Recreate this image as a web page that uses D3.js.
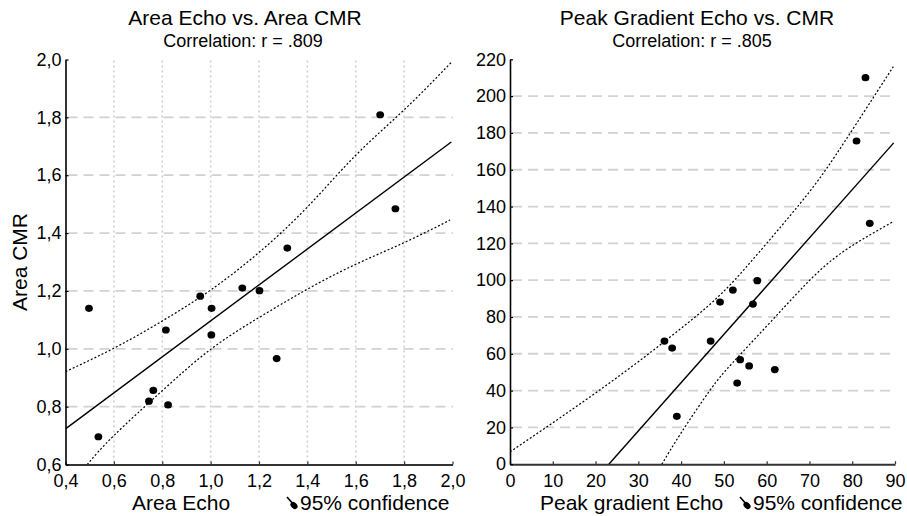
<!DOCTYPE html>
<html>
<head>
<meta charset="utf-8">
<script src="https://cdn.jsdelivr.net/npm/d3@7"></script>
<style>
  body { margin: 0; background: #fff; }
  svg { display: block; font-family: "Liberation Sans", Arial, Helvetica, sans-serif; }
</style>
</head>
<body>
<div id="chart"></div>
<script>
'use strict';

// left panel: area
const areaEcho = [0.497, 0.536, 0.745, 0.763, 0.824, 0.815, 0.957, 1.004, 1.003, 1.131, 1.202, 1.273, 1.317, 1.701, 1.764];
const areaCmr  = [1.140, 0.696, 0.819, 0.856, 0.806, 1.065, 1.182, 1.140, 1.048, 1.210, 1.201, 0.966, 1.348, 1.809, 1.484];
const areaFitX = [0.4, 1.995];
const areaFitY = [0.723, 1.715];
const areaUpperX = [0.4, 0.6, 0.8, 1.0, 1.2, 1.4, 1.6, 1.8, 1.995];
const areaUpperY = [0.921, 1.002, 1.096, 1.203, 1.333, 1.490, 1.669, 1.826, 1.99];
const areaLowerX = [0.49, 0.6, 0.8, 1.0, 1.2, 1.4, 1.6, 1.8, 1.99];
const areaLowerY = [0.6, 0.700, 0.855, 0.998, 1.108, 1.206, 1.292, 1.367, 1.445];
const areaXTicks = [0.4, 0.6, 0.8, 1.0, 1.2, 1.4, 1.6, 1.8, 2.0];
const areaYTicks = [0.6, 0.8, 1.0, 1.2, 1.4, 1.6, 1.8, 2.0];

// right panel: peak gradient
const peakEcho = [36.1, 37.9, 39.0, 46.9, 49.1, 52.1, 53.1, 53.8, 55.9, 56.8, 57.8, 61.9, 81.0, 83.1, 84.1];
const peakCmr  = [66.9, 63.1, 26.0, 66.9, 88.1, 94.6, 44.1, 56.8, 53.4, 87.0, 99.7, 51.4, 175.6, 210.0, 130.9];
const peakFitX = [23.1, 89.7];
const peakFitY = [0, 174.6];
const peakUpperX = [0, 10, 20, 30, 40, 50, 60, 70, 78.3, 89.6];
const peakUpperY = [6.7, 22.5, 38.7, 55.7, 73.8, 94, 120, 148, 175.5, 216];
const peakLowerX = [35.5, 40, 46.7, 52, 60, 68, 77, 89.6];
const peakLowerY = [0, 17, 40, 55, 75, 95, 114, 131.8];
const peakXTicks = [0, 10, 20, 30, 40, 50, 60, 70, 80, 90];
const peakYTicks = [0, 20, 40, 60, 80, 100, 120, 140, 160, 180, 200, 220];

const svg = d3.select("#chart").append("svg")
    .attr("width", 907)
    .attr("height", 516);

const zip = (xs, ys) => xs.map((x, i) => [x, ys[i]]);

function drawPanel(p) {
    const x = p.x, y = p.y;
    const g = svg.append("g");
    const [x0, x1] = x.range();
    const [yb, yt] = y.range();

    g.append("clipPath").attr("id", p.id + "-clip")
        .append("rect")
        .attr("x", x0).attr("y", yt)
        .attr("width", x1 - x0).attr("height", yb - yt);

    // grid
    if (p.vGrid) {
        g.selectAll(".vg").data(p.vGrid).enter().append("line")
            .attr("x1", d => x(d)).attr("x2", d => x(d))
            .attr("y1", yt + 1).attr("y2", yb)
            .attr("stroke", "#cfcfcf")
            .attr("stroke-width", 1.6)
            .attr("stroke-dasharray", "2,3");
    }
    g.selectAll(".hg").data(p.hGrid).enter().append("line")
        .attr("x1", x0 + 2).attr("x2", p.hGridEnd)
        .attr("y1", d => y(d)).attr("y2", d => y(d))
        .attr("stroke", "#d2d2d2")
        .attr("stroke-width", 1.8)
        .attr("stroke-dasharray", "10,6");

    const plot = g.append("g").attr("clip-path", "url(#" + p.id + "-clip)");
    const fitLine = d3.line().x(d => x(d[0])).y(d => y(d[1]));
    const bandLine = d3.line().x(d => x(d[0])).y(d => y(d[1])).curve(d3.curveNatural);

    plot.append("path").datum(zip(p.fitX, p.fitY))
        .attr("d", fitLine).attr("fill", "none")
        .attr("stroke", "#000").attr("stroke-width", 1.4);
    [zip(p.upX, p.upY), zip(p.loX, p.loY)].forEach(band => {
        plot.append("path").datum(band)
            .attr("d", bandLine).attr("fill", "none")
            .attr("stroke", "#000").attr("stroke-width", 1.2)
            .attr("stroke-dasharray", "2,2");
    });

    g.selectAll(".pt").data(zip(p.px, p.py)).enter().append("ellipse")
        .attr("cx", d => x(d[0])).attr("cy", d => y(d[1]))
        .attr("rx", 3.9).attr("ry", 3.6)
        .attr("fill", "#000");

    // axes
    const xAxis = g.append("g")
        .attr("transform", "translate(0," + yb + ")")
        .call(d3.axisBottom(x).tickValues(p.xTicks).tickFormat(p.fmtX)
            .tickSizeInner(-3).tickSizeOuter(0).tickPadding(10));
    xAxis.select(".domain").attr("stroke", "#333").attr("stroke-width", 2);
    xAxis.selectAll(".tick line").attr("stroke", "#333").attr("stroke-width", 1.2);
    xAxis.selectAll("text").attr("font-size", 18).attr("fill", "#000")
        .attr("font-family", "Liberation Sans, Arial, sans-serif");

    const yAxis = g.append("g")
        .attr("transform", "translate(" + x0 + ",0)")
        .call(d3.axisLeft(y).tickValues(p.yTicks).tickFormat(p.fmtY)
            .tickSizeInner(-3).tickSizeOuter(0).tickPadding(4));
    yAxis.select(".domain").attr("stroke", "#000").attr("stroke-width", 1.6);
    yAxis.selectAll(".tick line").attr("stroke", "#000").attr("stroke-width", 1.2);
    yAxis.selectAll("text").attr("font-size", 18).attr("fill", "#000")
        .attr("font-family", "Liberation Sans, Arial, sans-serif");

    // titles
    g.append("text").attr("x", p.titleX).attr("y", 25)
        .attr("text-anchor", "middle").attr("font-size", 21)
        .text(p.title);
    g.append("text").attr("x", p.subX).attr("y", 47)
        .attr("text-anchor", "middle").attr("font-size", 18)
        .text(p.sub);

    // x label and legend
    g.append("text").attr("x", p.xLabelX).attr("y", 510)
        .attr("font-size", 21).text(p.xLabel);
    g.append("line")
        .attr("x1", p.legX - 7).attr("y1", 497)
        .attr("x2", p.legX).attr("y2", 505)
        .attr("stroke", "#000").attr("stroke-width", 1.6);
    g.append("ellipse")
        .attr("cx", p.legX).attr("cy", 505.5)
        .attr("rx", 4).attr("ry", 3)
        .attr("transform", "rotate(45," + p.legX + ",505.5)")
        .attr("fill", "#000");
    g.append("text").attr("x", p.legX + 6).attr("y", 510)
        .attr("font-size", 21).text("95% confidence");
}

const comma = d => d.toFixed(1).replace(".", ",");

drawPanel({
    id: "area",
    x: d3.scaleLinear().domain([0.4, 2.0]).range([65.5, 452.5]),
    y: d3.scaleLinear().domain([0.6, 2.0]).range([464.5, 59.5]),
    px: areaEcho, py: areaCmr,
    fitX: areaFitX, fitY: areaFitY,
    upX: areaUpperX, upY: areaUpperY,
    loX: areaLowerX, loY: areaLowerY,
    xTicks: areaXTicks, yTicks: areaYTicks,
    fmtX: comma, fmtY: comma,
    vGrid: [0.6, 0.8, 1.0, 1.2, 1.4, 1.6, 1.8],
    hGrid: [0.8, 1.0, 1.2, 1.4, 1.6, 1.8],
    hGridEnd: 453,
    title: "Area Echo vs. Area CMR", titleX: 245,
    sub: "Correlation: r = .809", subX: 243,
    xLabel: "Area Echo", xLabelX: 132,
    legX: 294
});

drawPanel({
    id: "peak",
    x: d3.scaleLinear().domain([0, 90]).range([510, 895]),
    y: d3.scaleLinear().domain([0, 220]).range([464.2, 59.3]),
    px: peakEcho, py: peakCmr,
    fitX: peakFitX, fitY: peakFitY,
    upX: peakUpperX, upY: peakUpperY,
    loX: peakLowerX, loY: peakLowerY,
    xTicks: peakXTicks, yTicks: peakYTicks,
    fmtX: d3.format("d"), fmtY: d3.format("d"),
    vGrid: null,
    hGrid: [20, 40, 60, 80, 100, 120, 140, 160, 180, 200],
    hGridEnd: 890,
    title: "Peak Gradient Echo vs. CMR", titleX: 697,
    sub: "Correlation: r = .805", subX: 692,
    xLabel: "Peak gradient Echo", xLabelX: 540,
    legX: 747
});

// y label (left only)
svg.append("text")
    .attr("transform", "translate(27,262) rotate(-90)")
    .attr("text-anchor", "middle")
    .attr("font-size", 21)
    .text("Area CMR");
</script>
</body>
</html>
